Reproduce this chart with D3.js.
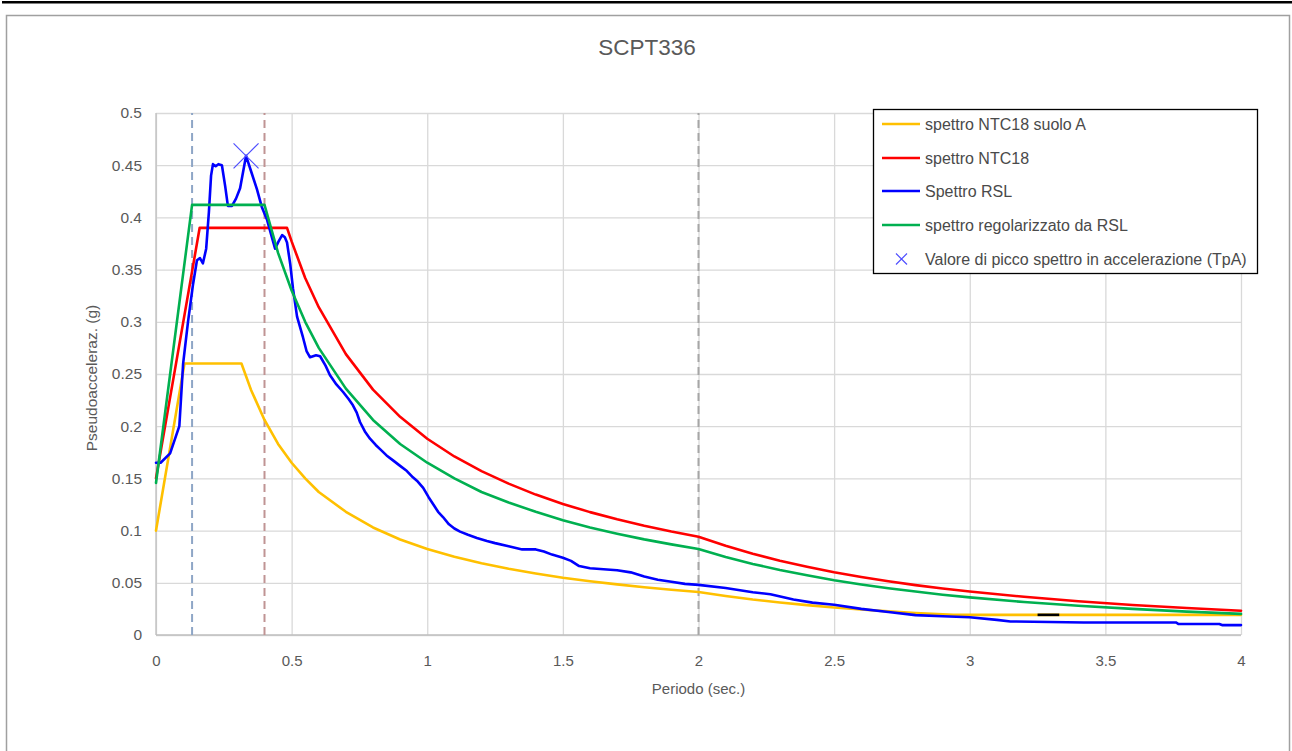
<!DOCTYPE html>
<html><head><meta charset="utf-8">
<script src="https://cdn.jsdelivr.net/npm/d3@7"></script>
<style>
html,body{margin:0;padding:0;background:#fff;}
svg{display:block;font-family:"Liberation Sans",Arial,sans-serif;}
</style></head>
<body>
<svg id="chart" width="1292" height="751"></svg>
<script>
// ---------- DATA ----------
const title = "SCPT336";
const xTicks = [0, 0.5, 1, 1.5, 2, 2.5, 3, 3.5, 4];
const xTickLabels = ["0", "0.5", "1", "1.5", "2", "2.5", "3", "3.5", "4"];
const yTicks = [0, 0.05, 0.1, 0.15, 0.2, 0.25, 0.3, 0.35, 0.4, 0.45, 0.5];
const yTickLabels = ["0", "0.05", "0.1", "0.15", "0.2", "0.25", "0.3", "0.35", "0.4", "0.45", "0.5"];
const seriesNames = ["spettro NTC18 suolo A", "spettro NTC18", "Spettro RSL", "spettro regolarizzato da RSL", "Valore di picco spettro in accelerazione (TpA)"];

// [period (s), pseudo-acceleration (g)]
const ntc18SuoloA = [[0,0.1],[0.105,0.26],[0.315,0.26],[0.35,0.235],[0.4,0.206],[0.45,0.183],[0.5,0.165],[0.55,0.15],[0.6,0.137],[0.7,0.118],[0.8,0.103],[0.9,0.0915],[1.0,0.0824],[1.1,0.0749],[1.2,0.0687],[1.3,0.0634],[1.4,0.0589],[1.5,0.0549],[1.6,0.0515],[1.7,0.0485],[1.8,0.0458],[1.9,0.0434],[2.0,0.0412],[2.1,0.0374],[2.2,0.034],[2.3,0.0312],[2.4,0.0286],[2.5,0.0264],[2.6,0.0244],[2.7,0.0226],[2.8,0.021],[2.94,0.0193],[3.2,0.0193],[3.6,0.0193],[4.0,0.0193]];
const ntc18 = [[0,0.15],[0.161,0.39],[0.483,0.39],[0.5,0.377],[0.55,0.342],[0.6,0.314],[0.7,0.269],[0.8,0.235],[0.9,0.209],[1.0,0.188],[1.1,0.171],[1.2,0.157],[1.3,0.145],[1.4,0.1345],[1.5,0.1255],[1.6,0.1177],[1.7,0.1108],[1.8,0.1046],[1.9,0.0991],[2.0,0.0942],[2.1,0.0854],[2.2,0.0778],[2.3,0.0712],[2.4,0.0654],[2.5,0.0601],[2.6,0.0556],[2.7,0.0515],[2.8,0.0478],[2.9,0.0446],[3.0,0.0416],[3.2,0.0366],[3.4,0.0323],[3.6,0.0288],[3.8,0.0258],[4.0,0.0233]];
const spettroRSL = [[0,0.165],[0.017,0.165],[0.052,0.174],[0.086,0.2],[0.1,0.26],[0.118,0.3],[0.136,0.335],[0.151,0.359],[0.162,0.361],[0.173,0.356],[0.185,0.37],[0.195,0.405],[0.203,0.44],[0.21,0.451],[0.22,0.449],[0.23,0.451],[0.243,0.45],[0.255,0.43],[0.265,0.411],[0.28,0.411],[0.295,0.418],[0.31,0.428],[0.332,0.459],[0.352,0.443],[0.372,0.427],[0.39,0.41],[0.409,0.398],[0.425,0.383],[0.439,0.37],[0.452,0.377],[0.465,0.383],[0.475,0.381],[0.483,0.376],[0.495,0.355],[0.505,0.332],[0.52,0.305],[0.542,0.285],[0.555,0.272],[0.568,0.266],[0.59,0.268],[0.605,0.267],[0.625,0.258],[0.641,0.249],[0.665,0.24],[0.689,0.233],[0.71,0.226],[0.726,0.22],[0.74,0.213],[0.752,0.204],[0.77,0.195],[0.789,0.188],[0.81,0.182],[0.826,0.178],[0.85,0.172],[0.875,0.167],[0.9,0.162],[0.925,0.157],[0.947,0.151],[0.965,0.147],[0.985,0.141],[1.005,0.132],[1.025,0.124],[1.04,0.118],[1.058,0.113],[1.08,0.106],[1.1,0.102],[1.121,0.099],[1.15,0.096],[1.183,0.093],[1.22,0.09],[1.25,0.088],[1.3,0.085],[1.35,0.082],[1.4,0.082],[1.43,0.08],[1.46,0.077],[1.5,0.074],[1.53,0.071],[1.56,0.066],[1.6,0.064],[1.65,0.063],[1.7,0.062],[1.75,0.06],[1.8,0.056],[1.85,0.053],[1.9,0.051],[1.95,0.049],[2.0,0.048],[2.1,0.045],[2.2,0.041],[2.265,0.039],[2.35,0.034],[2.42,0.031],[2.5,0.029],[2.6,0.025],[2.7,0.022],[2.8,0.019],[2.9,0.018],[3.0,0.017],[3.1,0.0145],[3.15,0.013],[3.42,0.012],[3.76,0.012],[3.77,0.0105],[3.92,0.0105],[3.93,0.0095],[4.0,0.0095]];
const spettroRegolarizzato = [[0,0.1456],[0.133,0.412],[0.4,0.412],[0.45,0.366],[0.5,0.33],[0.55,0.3],[0.6,0.275],[0.7,0.236],[0.8,0.206],[0.9,0.183],[1.0,0.165],[1.1,0.15],[1.2,0.137],[1.3,0.127],[1.4,0.118],[1.5,0.11],[1.6,0.103],[1.7,0.097],[1.8,0.0916],[1.9,0.0868],[2.0,0.0824],[2.1,0.0747],[2.2,0.0681],[2.3,0.0623],[2.4,0.0572],[2.5,0.0524],[2.6,0.0484],[2.7,0.0448],[2.8,0.0416],[2.9,0.0386],[3.0,0.036],[3.2,0.0316],[3.4,0.028],[3.6,0.025],[3.8,0.0224],[4.0,0.0202]];
const piccoTpA = [[0.332,0.459]];
const blackSegment = [[3.25,0.0193],[3.33,0.0193]];
// reference periods (vertical dashed lines)
const refPeriods = [0.133, 0.4, 2.0];

// ---------- STYLE ----------
const colors = ["#FFC000", "#FF0000", "#0000FF", "#00B050", "#4F4FFF"];
const refColors = ["#8EA6C6", "#C09494", "#A6A6A6"];

const svg = d3.select("#chart");
const W = 1292, H = 751;
const plot = {left:156, right:1241, top:113, bottom:635};

svg.append("rect").attr("width",W).attr("height",H).attr("fill","#fff");
// top black bar and outer frame
svg.append("rect").attr("x",2).attr("y",1).attr("width",1290).attr("height",2.5).attr("fill","#000");
svg.append("rect").attr("x",6.5).attr("y",15.5).attr("width",1283).attr("height",740).attr("fill","none").attr("stroke","#a0a0a0").attr("stroke-width",1.5);

const x = d3.scaleLinear().domain([0,4]).range([plot.left, plot.right]);
const y = d3.scaleLinear().domain([0,0.5]).range([plot.bottom, plot.top]);

// gridlines
const grid = svg.append("g");
grid.append("g").attr("transform",`translate(0,${plot.bottom})`)
  .call(d3.axisBottom(x).tickValues(xTicks).tickSize(-(plot.bottom-plot.top)).tickFormat(""))
  .call(g=>g.select(".domain").remove())
  .call(g=>g.selectAll("line").attr("stroke","#D9D9D9").attr("stroke-width",1.3));
grid.append("g").attr("transform",`translate(${plot.left},0)`)
  .call(d3.axisLeft(y).tickValues(yTicks).tickSize(-(plot.right-plot.left)).tickFormat(""))
  .call(g=>g.select(".domain").remove())
  .call(g=>g.selectAll("line").attr("stroke","#D9D9D9").attr("stroke-width",1.3));
// axis lines
svg.append("line").attr("x1",plot.left).attr("x2",plot.right).attr("y1",y(0)).attr("y2",y(0)).attr("stroke","#BFBFBF").attr("stroke-width",1.3);
svg.append("line").attr("x1",plot.left).attr("x2",plot.left).attr("y1",y(0)).attr("y2",y(0.5)).attr("stroke","#BFBFBF").attr("stroke-width",1.3);

// tick labels
const xAxis = svg.append("g").attr("transform",`translate(0,${plot.bottom})`)
  .call(d3.axisBottom(x).tickValues(xTicks).tickSize(0).tickPadding(20).tickFormat((d,i)=>xTickLabels[i]));
xAxis.select(".domain").remove();
xAxis.selectAll("text").attr("fill","#595959").style("font-size","15px").style("font-family","'Liberation Sans',Arial,sans-serif");
const yAxis = svg.append("g").attr("transform",`translate(${plot.left},0)`)
  .call(d3.axisLeft(y).tickValues(yTicks).tickSize(0).tickPadding(14).tickFormat((d,i)=>yTickLabels[i]));
yAxis.select(".domain").remove();
yAxis.selectAll("text").attr("fill","#595959").style("font-size","15.5px").style("font-family","'Liberation Sans',Arial,sans-serif");

// reference dashed lines
svg.append("g").selectAll("line").data(refPeriods).join("line")
  .attr("x1",d=>x(d)).attr("x2",d=>x(d)).attr("y1",y(0)).attr("y2",y(0.5))
  .attr("stroke",(d,i)=>refColors[i]).attr("stroke-width",2).attr("stroke-dasharray","8,5");

// series lines
const line = d3.line().x(d=>x(d[0])).y(d=>y(d[1]));
const seriesData = [ntc18SuoloA, ntc18, spettroRSL, spettroRegolarizzato];
svg.append("g").selectAll("path").data(seriesData).join("path")
  .attr("d",line).attr("fill","none")
  .attr("stroke",(d,i)=>colors[i]).attr("stroke-width",2.6)
  .attr("stroke-linejoin","round").attr("stroke-linecap","round");
svg.append("path").datum(blackSegment).attr("d",line).attr("fill","none").attr("stroke","#000").attr("stroke-width",2.6);

// peak marker (X)
const xm = 12.5;
svg.append("g").selectAll("path").data(piccoTpA).join("path")
  .attr("d",d=>{const cx=x(d[0]), cy=y(d[1]); return `M${cx-xm},${cy-xm}L${cx+xm},${cy+xm}M${cx-xm},${cy+xm}L${cx+xm},${cy-xm}`;})
  .attr("stroke",colors[4]).attr("stroke-width",1.2).attr("fill","none");

// titles
svg.append("text").attr("x",647).attr("y",55).attr("text-anchor","middle").attr("fill","#595959")
  .style("font-size","22.5px").text(title);
svg.append("text").attr("x",(plot.left+plot.right)/2).attr("y",694).attr("text-anchor","middle").attr("fill","#595959")
  .style("font-size","15px").text("Periodo (sec.)");
svg.append("text").attr("transform","translate(97,378) rotate(-90)").attr("text-anchor","middle").attr("fill","#595959")
  .style("font-size","15.5px").text("Pseudoacceleraz. (g)");

// legend
const lg = svg.append("g");
lg.append("rect").attr("x",873.5).attr("y",109.5).attr("width",384).attr("height",164).attr("fill","#fff").attr("stroke","#000").attr("stroke-width",1.3);
const legY = [124,158,191,225,259];
seriesNames.forEach((name,i)=>{
  if(i<4){
    lg.append("line").attr("x1",882).attr("x2",920).attr("y1",legY[i]).attr("y2",legY[i]).attr("stroke",colors[i]).attr("stroke-width",2.6);
  } else {
    const cx=901.5, cy=legY[i], s=5.5;
    lg.append("path").attr("d",`M${cx-s},${cy-s}L${cx+s},${cy+s}M${cx-s},${cy+s}L${cx+s},${cy-s}`).attr("stroke",colors[4]).attr("stroke-width",1.2);
  }
  lg.append("text").attr("x",925).attr("y",legY[i]).attr("dy","0.35em").attr("fill","#4a4a4a")
    .style("font-size","16px").text(name);
});
</script>
</body></html>
